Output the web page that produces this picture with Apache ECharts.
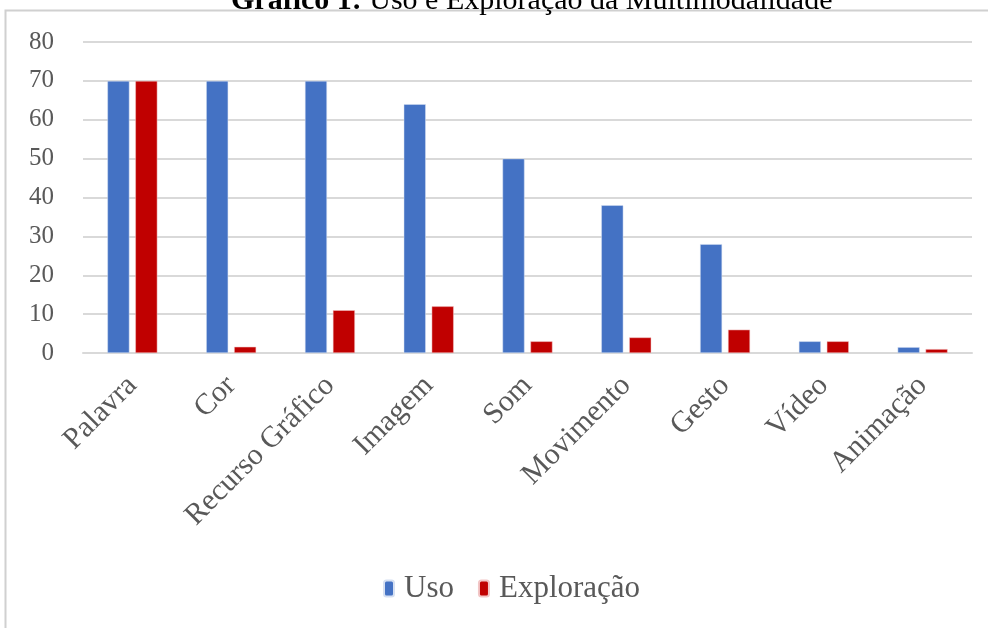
<!DOCTYPE html>
<html>
<head>
<meta charset="utf-8">
<script src="https://cdn.jsdelivr.net/npm/echarts@6/dist/echarts.min.js"></script>
<style>
  html, body { margin: 0; padding: 0; background: #fff; }
  #container { width: 988px; height: 628px; }
</style>
</head>
<body>
<div id="container"></div>
<script>
var categories = ['Palavra', 'Cor', 'Recurso Gráfico', 'Imagem', 'Som', 'Movimento', 'Gesto', 'Vídeo', 'Animação'];
var usoValues = [70, 70, 70, 64, 50, 38, 28, 3, 1.5];
var exploracaoValues = [70, 1.6, 11, 12, 3, 4, 6, 3, 1];
var yTicks = [0, 10, 20, 30, 40, 50, 60, 70, 80];

var serif = '"Liberation Serif", "DejaVu Serif", serif';

var option = {
    animation: false,
    textStyle: { fontFamily: serif },
    title: {
        text: '{b|Gráfico 1:} Uso e Exploração da Multimodalidade',
        left: 226,
        top: -19,
        textStyle: {
            fontFamily: serif,
            fontSize: 30,
            fontWeight: 'normal',
            color: '#000',
            rich: {
                b: { fontFamily: serif, fontSize: 30, fontWeight: 'bold', color: '#000' }
            }
        }
    },
    graphic: [{
        type: 'rect',
        shape: { x: 5.5, y: 10.5, width: 1000, height: 700 },
        style: { fill: null, stroke: '#d0d0d0', lineWidth: 2 },
        silent: true,
        z: -1
    }],
    legend: {
        bottom: 19,
        left: 378,
        itemWidth: 10,
        itemHeight: 16,
        itemGap: 24,
        textStyle: { fontFamily: serif, fontSize: 31, color: '#595959', padding: [0, 0, 0, 5] },
        data: ['Uso', 'Exploração']
    },
    grid: { left: 83, right: 16, top: 42, bottom: 275 },
    xAxis: {
        type: 'category',
        data: categories,
        axisLine: { show: true, lineStyle: { color: '#d9d9d9', width: 2 } },
        axisTick: { show: false },
        axisLabel: {
            rotate: 45,
            interval: 0,
            margin: 28,
            fontFamily: serif,
            fontSize: 30,
            color: '#595959'
        }
    },
    yAxis: {
        type: 'value',
        min: yTicks[0],
        max: yTicks[yTicks.length - 1],
        interval: 10,
        axisLine: { show: false },
        axisTick: { show: false },
        axisLabel: { fontFamily: serif, fontSize: 25, color: '#595959', margin: 29 },
        splitLine: { lineStyle: { color: '#d9d9d9', width: 2 } }
    },
    series: [{
        name: 'Uso',
        type: 'bar',
        data: usoValues,
        barWidth: 22,
        barGap: '27%',
        itemStyle: { color: '#4472c4', borderColor: '#d6e0f2', borderWidth: 0.5 }
    }, {
        name: 'Exploração',
        type: 'bar',
        data: exploracaoValues,
        barWidth: 22,
        itemStyle: { color: '#c00000', borderColor: '#f2c6c6', borderWidth: 0.5 }
    }]
};

var myChart = echarts.init(document.getElementById('container'));
myChart.setOption(option);
</script>
</body>
</html>
